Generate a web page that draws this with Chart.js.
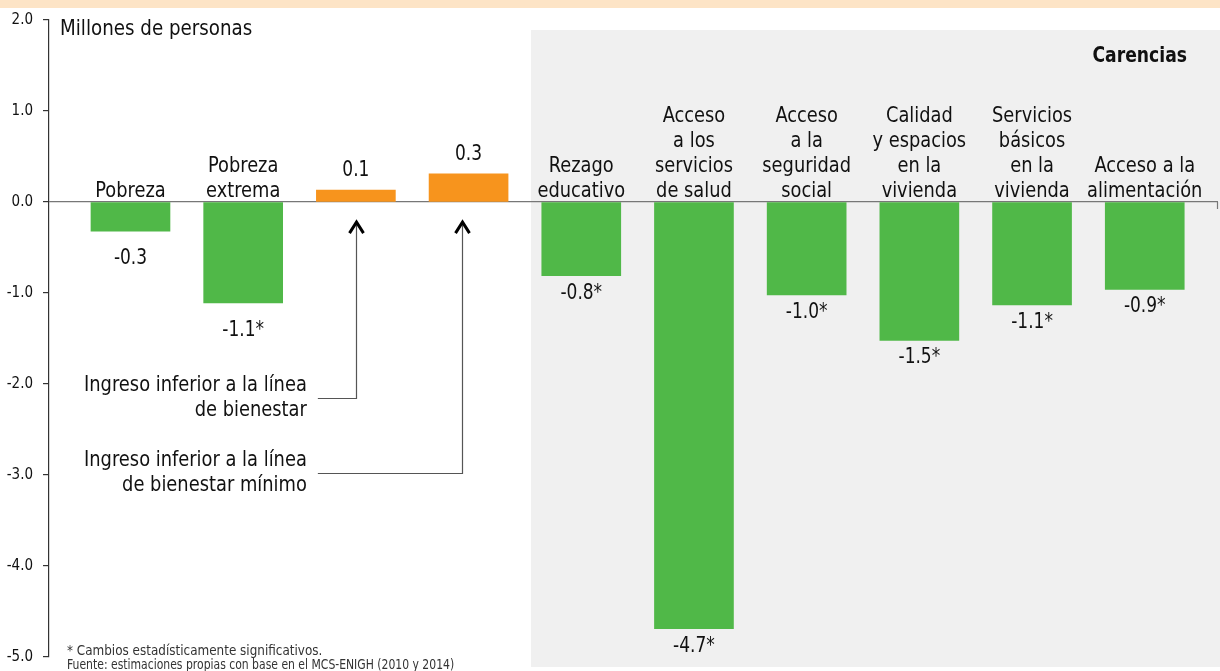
<!DOCTYPE html>
<html>
<head>
<meta charset="utf-8">
<script src="https://cdn.jsdelivr.net/npm/chart.js@4/dist/chart.umd.min.js"></script>
<style>
  html, body { margin: 0; padding: 0; background: #ffffff; }
  #wrap { width: 1220px; height: 671px; position: relative; }
</style>
</head>
<body>
<div id="wrap"><canvas id="c" width="1220" height="671"></canvas></div>
<script>
// ---- data ----
const categories = [
  ['Pobreza'],
  ['Pobreza', 'extrema'],
  [],
  [],
  ['Rezago', 'educativo'],
  ['Acceso', 'a los', 'servicios', 'de salud'],
  ['Acceso', 'a la', 'seguridad', 'social'],
  ['Calidad', 'y espacios', 'en la', 'vivienda'],
  ['Servicios', 'básicos', 'en la', 'vivienda'],
  ['Acceso a la', 'alimentación']
];
const values = [-0.32, -1.11, 0.13, 0.31, -0.81, -4.69, -1.02, -1.52, -1.13, -0.96];
const valueLabels = ['-0.3', '-1.1*', '0.1', '0.3', '-0.8*', '-4.7*', '-1.0*', '-1.5*', '-1.1*', '-0.9*'];
const yTickValues = [2, 1, 0, -1, -2, -3, -4, -5];
const annotations = [
  { target: 2, lines: ['Ingreso inferior a la línea', 'de bienestar'] },
  { target: 3, lines: ['Ingreso inferior a la línea', 'de bienestar mínimo'] }
];
const yTitle = 'Millones de personas';
const groupTitle = 'Carencias';
const footnotes = ['* Cambios estadísticamente significativos.', 'Fuente: estimaciones propias con base en el MCS-ENIGH (2010 y 2014)'];

// ---- style ----
const FONT = '"DejaVu Sans Condensed", "DejaVu Sans", sans-serif';
const GREEN = '#50b848';
const ORANGE = '#f7941d';
const TEXT = '#111111';

const points = values.map((v, i) => ({ x: i, y: v }));

function txt(ctx, s, x, y, align, sx) {
  ctx.save();
  ctx.translate(x, y);
  ctx.scale(sx, 1);
  ctx.textAlign = align;
  ctx.fillText(s, 0, 0);
  ctx.restore();
}

const decor = {
  id: 'decor',
  beforeDraw(chart) {
    const ctx = chart.ctx;
    const xs = chart.scales.x;
    ctx.save();
    ctx.fillStyle = '#ffffff';
    ctx.fillRect(0, 0, chart.width, chart.height);
    ctx.fillStyle = '#fde4c6';
    ctx.fillRect(0, 0, chart.width, 8);
    const gx = Math.round(xs.getPixelForValue(3.55));
    ctx.fillStyle = '#f0f0f0';
    ctx.fillRect(gx, 30, chart.width - gx, 637);
    ctx.restore();
  },
  afterDatasetsDraw(chart) {
    const ctx = chart.ctx;
    const xs = chart.scales.x;
    const ys = chart.scales.y;
    const zero = ys.getPixelForValue(0);
    ctx.save();
    ctx.fillStyle = TEXT;
    ctx.textBaseline = 'alphabetic';

    // right end tick of zero line
    ctx.strokeStyle = '#777';
    ctx.lineWidth = 1.2;
    ctx.beginPath();
    ctx.moveTo(chart.chartArea.right - 0.5, zero);
    ctx.lineTo(chart.chartArea.right - 0.5, zero + 7);
    ctx.stroke();

    // category labels
    ctx.font = '22px ' + FONT;
    categories.forEach((lines, i) => {
      const cx = xs.getPixelForValue(i);
      const n = lines.length;
      lines.forEach((t, k) => {
        txt(ctx, t, cx, zero - 5 - (n - 1 - k) * 25, 'center', 0.9);
      });
    });

    // value labels
    const meta = chart.getDatasetMeta(0);
    meta.data.forEach((bar, i) => {
      const v = values[i];
      const y = v >= 0 ? bar.y - 14 : bar.y + (i < 2 ? 33 : 23);
      txt(ctx, valueLabels[i], bar.x, y, 'center', 0.86);
    });

    // annotations with arrows
    const textRight = xs.getPixelForValue(1.565);
    const connY = [ys.getPixelForValue(-2.15), ys.getPixelForValue(-2.98)];
    const tipY = ys.getPixelForValue(-0.21);
    annotations.forEach((a, j) => {
      const ax = Math.round(xs.getPixelForValue(a.target - (j === 1 ? 0.055 : 0))) + 0.5;
      const cy = Math.round(connY[j]) + 0.5;
      ctx.strokeStyle = '#555';
      ctx.lineWidth = 1.2;
      ctx.beginPath();
      ctx.moveTo(textRight + 11, cy);
      ctx.lineTo(ax, cy);
      ctx.lineTo(ax, tipY + 2);
      ctx.stroke();
      ctx.strokeStyle = '#000';
      ctx.lineWidth = 3;
      ctx.lineJoin = 'miter';
      ctx.beginPath();
      ctx.moveTo(ax - 7, tipY + 12);
      ctx.lineTo(ax, tipY + 1);
      ctx.lineTo(ax + 7, tipY + 12);
      ctx.stroke();
      ctx.font = '21px ' + FONT;
      ctx.fillStyle = TEXT;
      txt(ctx, a.lines[0], textRight, cy - 8, 'right', 0.945);
      txt(ctx, a.lines[1], textRight, cy + 17, 'right', 0.945);
    });

    // titles
    ctx.font = '22px ' + FONT;
    txt(ctx, yTitle, 60, 35, 'left', 0.923);
    ctx.font = 'bold 21px ' + FONT;
    txt(ctx, groupTitle, 1187, 62, 'right', 0.91);

    // footnotes
    ctx.fillStyle = '#333';
    ctx.font = '14.5px ' + FONT;
    txt(ctx, footnotes[0], 67, 655, 'left', 0.92);
    ctx.font = '14px ' + FONT;
    txt(ctx, footnotes[1], 67, 669, 'left', 0.86);
    ctx.restore();
  }
};

new Chart(document.getElementById('c'), {
  type: 'bar',
  data: {
    datasets: [{
      data: points,
      backgroundColor: values.map(v => v >= 0 ? ORANGE : GREEN),
      borderWidth: 0,
      barThickness: 79
    }]
  },
  options: {
    responsive: false,
    animation: false,
    layout: { padding: { top: 20, bottom: 14, right: 2, left: 0 } },
    plugins: { legend: { display: false }, tooltip: { enabled: false } },
    scales: {
      x: {
        type: 'linear',
        min: -0.723,
        max: 9.65,
        offset: false,
        grid: { offset: false },
        display: false
      },
      y: {
        min: -5,
        max: 2,
        afterFit(scale) { scale.width = 49; scale.paddingTop = 0; scale.paddingBottom = 0; },
        afterBuildTicks(scale) { scale.ticks = yTickValues.map(v => ({ value: v })); },
        ticks: {
          callback: v => v.toFixed(1),
          color: TEXT,
          padding: 10,
          font: { family: FONT, size: 15 }
        },
        grid: {
          drawTicks: true,
          tickLength: 6,
          tickColor: '#333',
          color: c => (c.tick && c.tick.value === 0) ? '#777' : 'rgba(0,0,0,0)',
          lineWidth: 1.2
        },
        border: { display: true, color: '#333', width: 1.2 }
      }
    }
  },
  plugins: [decor]
});
</script>
</body>
</html>
